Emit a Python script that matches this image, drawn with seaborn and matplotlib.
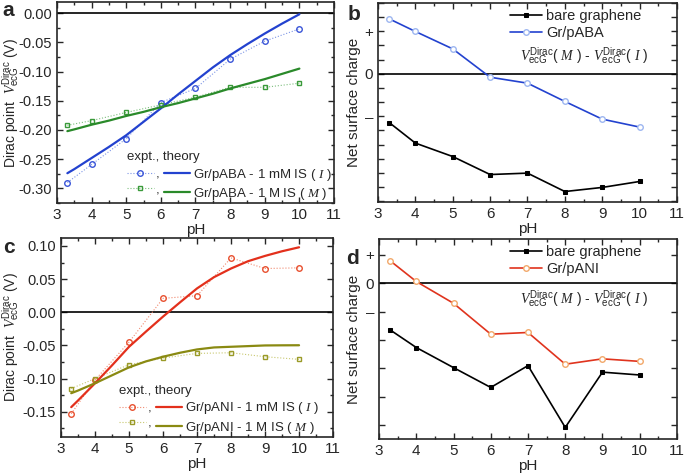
import numpy as np
import seaborn as sns
import matplotlib.pyplot as plt
from matplotlib.ticker import MultipleLocator, FormatStrFormatter

# ---- data ----
ph = [3.3, 4, 5, 6, 7, 8, 9, 10]
ph_fit = [3.3, 3.5, 4, 4.5, 5, 5.5, 6, 6.5, 7, 7.5, 8, 8.5, 9, 9.5, 10]

# panel a: Gr/pABA
aba_1mM = [-0.290, -0.259, -0.215, -0.153, -0.129, -0.079, -0.048, -0.027]
aba_1M = [-0.192, -0.184, -0.170, -0.157, -0.144, -0.127, -0.127, -0.120]
aba_1mM_fit = [-0.274, -0.267, -0.248, -0.229, -0.209, -0.186, -0.163, -0.139,
               -0.116, -0.093, -0.072, -0.053, -0.035, -0.018, -0.002]
aba_1M_fit = [-0.202, -0.199, -0.191, -0.184, -0.176, -0.169, -0.161, -0.154,
              -0.146, -0.138, -0.129, -0.121, -0.113, -0.104, -0.095]

# panel b: net surface charge (arb.)
bare_b = [-3.44, -4.89, -5.84, -7.11, -7.01, -8.31, -8.02, -7.60]
aba_charge = [3.88, 2.99, 1.76, -0.24, -0.66, -1.95, -3.20, -3.76]

# panel c: Gr/pANI
ani_1mM = [-0.153, -0.102, -0.045, 0.021, 0.025, 0.082, 0.066, 0.067]
ani_1M = [-0.115, -0.100, -0.079, -0.069, -0.062, -0.061, -0.067, -0.071]
ani_1mM_fit = [-0.143, -0.133, -0.107, -0.080, -0.052, -0.029, -0.0065, 0.015,
               0.036, 0.053, 0.066, 0.077, 0.085, 0.092, 0.098]
ani_1M_fit = [-0.122, -0.118, -0.107, -0.095, -0.083, -0.074, -0.067, -0.061,
              -0.056, -0.053, -0.052, -0.051, -0.050, -0.0498, -0.0497]

# panel d
bare_d = [-1.65, -2.27, -2.98, -3.68, -2.91, -5.09, -3.14, -3.24]
ani_charge = [0.79, 0.06, -0.71, -1.80, -1.74, -2.86, -2.67, -2.76]

sns.set_style("ticks")
plt.rcParams['font.family'] = ['Liberation Sans', 'DejaVu Sans']
plt.rcParams['mathtext.fontset'] = 'custom'
plt.rcParams['mathtext.rm'] = 'Liberation Sans'
plt.rcParams['mathtext.it'] = 'Liberation Serif:italic'
plt.rcParams['axes.unicode_minus'] = False
plt.rcParams['font.size'] = 10.5
plt.rcParams['axes.linewidth'] = 1.2

fig = plt.figure(figsize=(6.85, 4.74), dpi=100)
ax_a = fig.add_axes([0.0832, 0.5717, 0.4044, 0.4241])
ax_b = fig.add_axes([0.5518, 0.5738, 0.4365, 0.4199])
ax_c = fig.add_axes([0.0891, 0.0781, 0.3971, 0.4198])
ax_d = fig.add_axes([0.5533, 0.0738, 0.4350, 0.4220])

vlabel = r"$V^{\mathrm{Dirac}}_{\mathrm{ecG}}$"
diff_text = vlabel + "( $M$ ) - " + vlabel + "( $I$ )"


def style(ax):
    ax.set_xlim(3, 11)
    ax.xaxis.set_major_locator(MultipleLocator(1))
    ax.xaxis.set_minor_locator(MultipleLocator(0.5))
    ax.tick_params(which='both', direction='in', top=True, right=True,
                   labelsize=11, width=1)
    ax.tick_params(which='major', length=4)
    ax.tick_params(which='minor', length=2.5)
    ax.set_xlabel("pH", fontsize=11, labelpad=1)
    ax.axhline(0, color='black', lw=1.2, zorder=1)


def vpanel(ax, y1, y2, f1, f2, c1, c2, e1, e2, l1, l2, name, lx, hx):
    sns.lineplot(x=ph, y=y1, ax=ax, color=l1, lw=0.8, ls=':', marker='o',
                 markersize=4, mfc='none', mec=e1, mew=1)
    h1 = ax.lines[-1]
    sns.lineplot(x=ph, y=y2, ax=ax, color=l2, lw=0.8, ls=':', marker='s',
                 markersize=3.5, mfc='none', mec=e2, mew=1)
    h2 = ax.lines[-1]
    sns.lineplot(x=ph_fit, y=f1, ax=ax, color=c1, lw=1.6)
    h3 = ax.lines[-1]
    sns.lineplot(x=ph_fit, y=f2, ax=ax, color=c2, lw=1.6)
    h4 = ax.lines[-1]
    style(ax)
    ax.tick_params(axis='y', labelsize=10.5)
    ax.yaxis.set_major_locator(MultipleLocator(0.05))
    ax.yaxis.set_minor_locator(MultipleLocator(0.025))
    ax.yaxis.set_major_formatter(FormatStrFormatter('%.2f'))
    ax.set_ylabel("Dirac point  " + vlabel + " (V)", fontsize=10)
    ax.yaxis.set_label_coords(lx, 0.5)
    ax.legend([h1, h2, h3, h4],
              [",", ",", name + " - 1 mM IS ( $I$ )", name + " - 1 M IS ( $M$ )"],
              ncol=2, frameon=False, title="expt., theory",
              alignment='left', fontsize=9.5, title_fontsize=9.5,
              handlelength=2.0, handletextpad=0.2, columnspacing=0.3,
              labelspacing=0.25, borderpad=0.2,
              loc='lower left', bbox_to_anchor=(hx, -0.04))


def qpanel(ax, bare, coated, lc, mc, name, lx):
    sns.lineplot(x=ph, y=bare, ax=ax, color='black', lw=1.2, marker='s',
                 markersize=3.5, mec='black', mfc='black', label='bare graphene')
    sns.lineplot(x=ph, y=coated, ax=ax, color=lc, lw=1.2, marker='o',
                 markersize=4, mec=mc, mfc='white', mew=1, label=name)
    style(ax)
    ax.set_ylabel("Net surface charge", fontsize=11)
    ax.yaxis.set_label_coords(lx, 0.5)
    ax.legend(loc='upper right', bbox_to_anchor=(0.9, 1.0), frameon=False,
              fontsize=10.5, handlelength=2.2, handletextpad=0.3,
              labelspacing=0.2, borderpad=0.2, borderaxespad=0.2)


vpanel(ax_a, aba_1mM, aba_1M, aba_1mM_fit, aba_1M_fit,
       '#2342cf', '#2a8a2a', '#3a55d8', '#3a9a3a', '#7d95e6', '#7dbf7d',
       'Gr/pABA', -0.128, 0.22)
ax_a.set_ylim(-0.325, 0.019)

qpanel(ax_b, bare_b, aba_charge, '#2342cf', '#9db6f0', 'Gr/pABA', -0.056)
ax_b.set_ylim(-9.05, 5.0)
ax_b.set_yticks(range(-9, 6))
ax_b.set_yticklabels(['' if v not in (3, 0, -3) else {3: '+', 0: '0', -3: '–'}[v]
                      for v in range(-9, 6)])
ax_b.text(0.69, 0.73, diff_text, transform=ax_b.transAxes, ha='center',
          va='center', fontsize=10)

vpanel(ax_c, ani_1mM, ani_1M, ani_1mM_fit, ani_1M_fit,
       '#e3301c', '#8a8a12', '#e8502f', '#9a9a28', '#f08a70', '#c8c870',
       'Gr/pANI', -0.145, 0.18)
ax_c.set_ylim(-0.188, 0.112)

qpanel(ax_d, bare_d, ani_charge, '#e0341e', '#f2a86a', 'Gr/pANI', -0.06)
ax_d.set_ylim(-5.5, 1.56)
ax_d.set_yticks(range(-5, 2))
ax_d.set_yticklabels(['' if v not in (1, 0, -1) else {1: '+', 0: '0', -1: '–'}[v]
                      for v in range(-5, 2)])
ax_d.text(0.69, 0.70, diff_text, transform=ax_d.transAxes, ha='center',
          va='center', fontsize=10)

for lab, x, y in [('a', 0.004, 0.997), ('b', 0.508, 0.99),
                  ('c', 0.004, 0.497), ('d', 0.505, 0.475)]:
    fig.text(x, y, lab, fontsize=15, fontweight='bold', va='top', ha='left')

fig.savefig("out.png", dpi=100)
